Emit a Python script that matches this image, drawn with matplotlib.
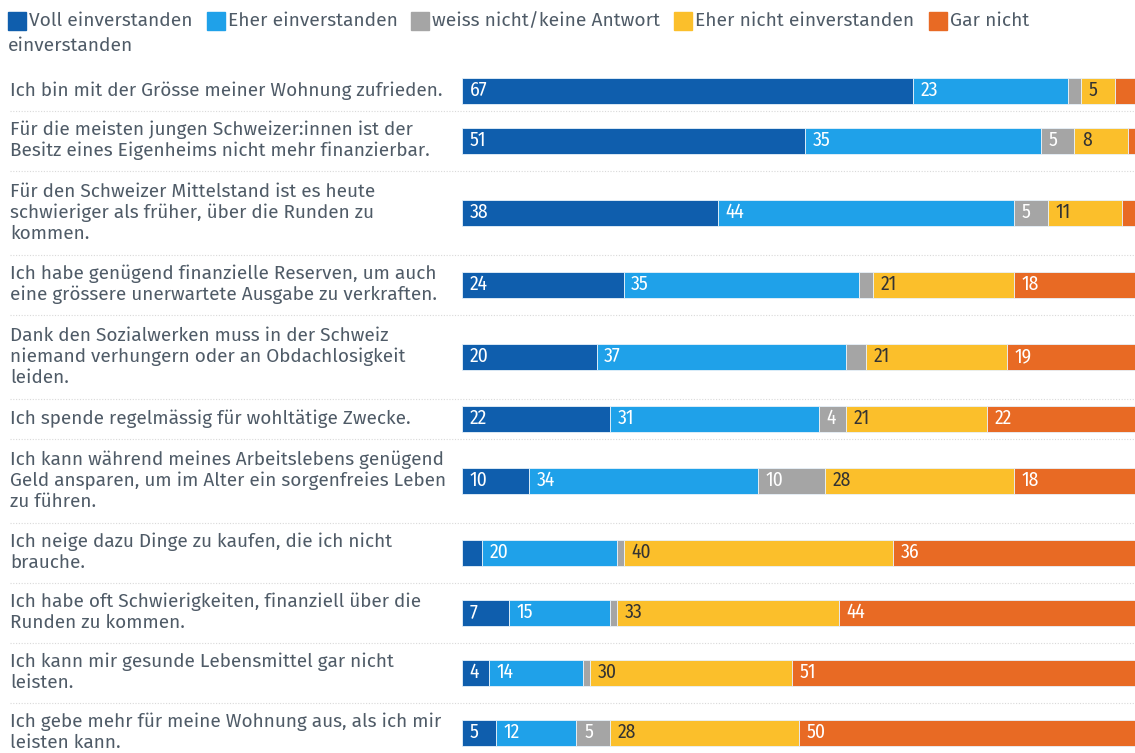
import matplotlib.pyplot as plt
from matplotlib.patches import Rectangle

plt.switch_backend('Agg')

statements = [
    "Ich bin mit der Grösse meiner Wohnung zufrieden.",
    "Für die meisten jungen Schweizer:innen ist der\nBesitz eines Eigenheims nicht mehr finanzierbar.",
    "Für den Schweizer Mittelstand ist es heute\nschwieriger als früher, über die Runden zu\nkommen.",
    "Ich habe genügend finanzielle Reserven, um auch\neine grössere unerwartete Ausgabe zu verkraften.",
    "Dank den Sozialwerken muss in der Schweiz\nniemand verhungern oder an Obdachlosigkeit\nleiden.",
    "Ich spende regelmässig für wohltätige Zwecke.",
    "Ich kann während meines Arbeitslebens genügend\nGeld ansparen, um im Alter ein sorgenfreies Leben\nzu führen.",
    "Ich neige dazu Dinge zu kaufen, die ich nicht\nbrauche.",
    "Ich habe oft Schwierigkeiten, finanziell über die\nRunden zu kommen.",
    "Ich kann mir gesunde Lebensmittel gar nicht\nleisten.",
    "Ich gebe mehr für meine Wohnung aus, als ich mir\nleisten kann.",
]

categories = ["Voll einverstanden", "Eher einverstanden", "weiss nicht/keine Antwort",
              "Eher nicht einverstanden", "Gar nicht einverstanden"]

voll = [67, 51, 38, 24, 20, 22, 10, 3, 7, 4, 5]
eher = [23, 35, 44, 35, 37, 31, 34, 20, 15, 14, 12]
weiss = [2, 5, 5, 2, 3, 4, 10, 1, 1, 1, 5]
eher_nicht = [5, 8, 11, 21, 21, 21, 28, 40, 33, 30, 28]
gar_nicht = [3, 1, 2, 18, 19, 22, 18, 36, 44, 51, 50]

series = [voll, eher, weiss, eher_nicht, gar_nicht]
colors = ['#0f5ead', '#1fa1e9', '#a5a5a5', '#fbbf2b', '#e86a24']
label_colors = ['white', 'white', 'white', '#333333', 'white']

W, H = 1135, 753
TEXT = '#4f5b67'
FONT = ['Fira Sans', 'Lato', 'DejaVu Sans']
NUMFONT = ['Fira Sans Condensed', 'Roboto Condensed', 'Roboto', 'DejaVu Sans']

fig = plt.figure(figsize=(W / 100, H / 100), dpi=100)
fig.patch.set_facecolor('white')

# background axes in pixel units for labels, separators, legend
bg = fig.add_axes([0, 0, 1, 1])
bg.set_xlim(0, W)
bg.set_ylim(H, 0)
bg.axis('off')

bar_left = 462
ax = fig.add_axes([bar_left / W, 0, (W - bar_left) / W, 1])
ax.set_xlim(0, 100)
ax.set_ylim(H, 0)
ax.axis('off')

# row layout from number of label lines
centers = []
bounds = []
y = 70.5
for s in statements:
    n = s.count('\n') + 1
    h = max(24 * n, 28) + 12
    centers.append(y + h / 2)
    y += h
    bounds.append(y)

for i, s in enumerate(statements):
    bg.text(10, centers[i], s, ha='left', va='center', fontsize=13.7,
            color=TEXT, family=FONT, linespacing=1.2)
for b in bounds[:-1]:
    bg.plot([10, W], [b, b], color='#d9d9d9', lw=0.8, ls=(0, (1, 1.5)))

left = [0] * len(statements)
for k, vals in enumerate(series):
    ax.barh(centers, vals, left=left, height=26, color=colors[k],
            edgecolor='#e8f2fa', linewidth=0.6)
    for i, v in enumerate(vals):
        if v >= 4:
            ax.annotate(str(v), xy=(left[i], centers[i]), xytext=(5.5, 0),
                        textcoords='offset points', ha='left', va='center',
                        fontsize=14, color=label_colors[k], family=NUMFONT)
    left = [l + v for l, v in zip(left, vals)]

# legend, wrapping like the original
fig.canvas.draw()
r = fig.canvas.get_renderer()
x, ly = 8, 21
for k, cat in enumerate(categories):
    words = cat.split(' ')
    if k == 4:
        first, rest = ' '.join(words[:2]), ' '.join(words[2:])
    else:
        first, rest = cat, ''
    bg.add_patch(Rectangle((x, ly - 9), 18, 18, color=colors[k]))
    t = bg.text(x + 21, ly, first, ha='left', va='center', fontsize=13.8,
                color=TEXT, family=FONT)
    bb = t.get_window_extent(r)
    x += 21 + bb.width + 14
    if rest:
        bg.text(8, ly + 25, rest, ha='left', va='center', fontsize=13.8,
                color=TEXT, family=FONT)

fig.savefig('out.png', dpi=100)
